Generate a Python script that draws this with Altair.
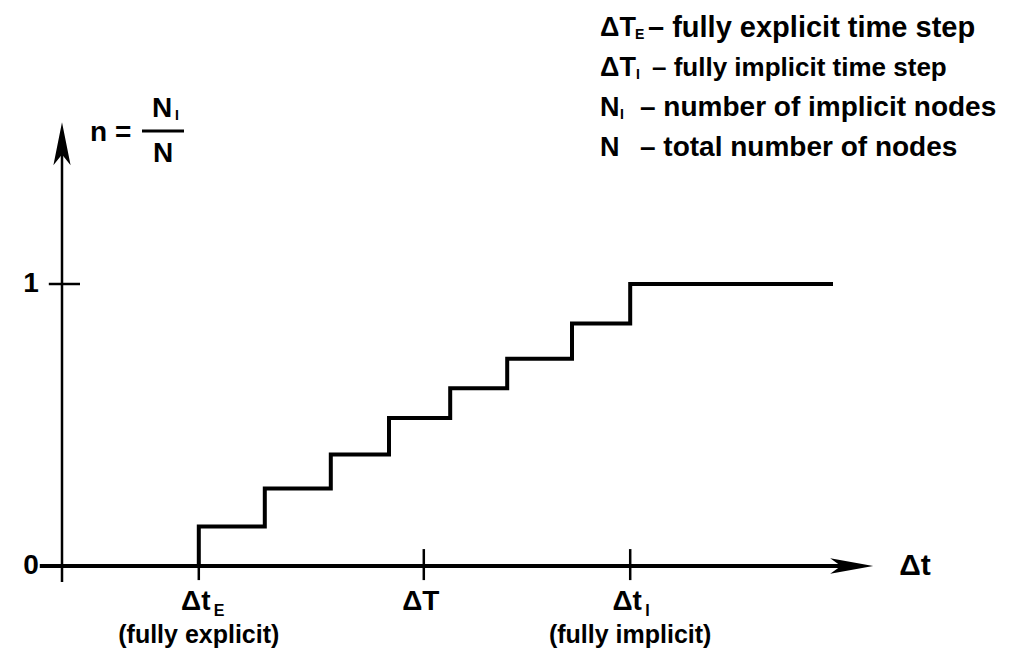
import altair as alt
import pandas as pd

# ---- data -----------------------------------------------------------------
# step function n = N_I / N versus time step (abscissa in arbitrary units)
step_dt = [2.28, 2.28, 3.38, 4.48, 5.45, 6.47, 7.42, 8.50, 9.47, 12.85]
step_n = [0.0, 0.14, 0.275, 0.395, 0.525, 0.63, 0.735, 0.86, 1.0, 1.0]

# x-axis ticks
xtick_pos = [2.28, 6.03, 9.47]
xtick_main = ["Δt", "ΔT", "Δt"]
xtick_sub = ["E", "", "I"]
xtick_note = ["(fully explicit)", "", "(fully implicit)"]

# y-axis ticks
ytick_pos = [0, 1]
ytick_lab = ["0", "1"]

# axis extents (data units)
x_axis_range = [-0.37, 13.52]
y_axis_range = [-0.057, 1.574]

# legend lines
leg_sym = ["ΔT", "ΔT", "N", "N"]
leg_sub = ["E", "I", "I", ""]
leg_txt = ["– fully explicit time step", "– fully implicit time step",
           "– number of implicit nodes", "– total number of nodes"]

FONT = "Liberation Sans"
W, H = 1023, 667
xs = alt.Scale(domain=[-62 / 60, (W - 62) / 60], nice=False, zero=False)
ys = alt.Scale(domain=[(566 - H) / 282, 566 / 282], nice=False, zero=False)

X = lambda f: alt.X(f, type="quantitative", scale=xs, axis=None)
Y = lambda f: alt.Y(f, type="quantitative", scale=ys, axis=None)

# ---- step line -------------------------------------------------------------
steps = pd.DataFrame({"dt": step_dt, "n": step_n, "i": range(len(step_dt))})
step_line = alt.Chart(steps).mark_line(
    interpolate="step-after", color="black", strokeWidth=4, strokeJoin="miter"
).encode(x=X("dt"), y=Y("n"), order="i:Q")

# ---- axes ------------------------------------------------------------------
xaxis = alt.Chart(pd.DataFrame({"a": [x_axis_range[0]], "b": [x_axis_range[1] - 0.3], "y": [0]})).mark_rule(
    color="black", strokeWidth=4).encode(x=X("a"), x2="b", y=Y("y"))
yaxis = alt.Chart(pd.DataFrame({"a": [y_axis_range[0]], "b": [y_axis_range[1] - 0.05], "x": [0]})).mark_rule(
    color="black", strokeWidth=2.5).encode(y=Y("a"), y2="b", x=X("x"))

# x ticks
xt = pd.DataFrame({"x": xtick_pos, "lo": [-0.05] * 3, "hi": [0.06] * 3,
                   "main": xtick_main, "sub": xtick_sub, "note": xtick_note})
xticks = alt.Chart(xt).mark_rule(color="black", strokeWidth=2.5).encode(
    x=X("x"), y=Y("lo"), y2="hi")
# y tick at 1
yt = pd.DataFrame({"y": [1], "a": [-0.22], "b": [0.30]})
yticks = alt.Chart(yt).mark_rule(color="black", strokeWidth=2.5).encode(
    y=Y("y"), x=X("a"), x2="b")

# arrowheads
arrows = pd.DataFrame({"x": [0, x_axis_range[1]], "y": [y_axis_range[1], 0],
                       "k": ["up", "right"]})
up = alt.Chart(arrows[arrows.k == "up"]).mark_point(
    shape="M0,0L0.4,2L0,1.5L-0.4,2Z", size=1849, filled=True, color="black", opacity=1
).encode(x=X("x"), y=Y("y"))
right = alt.Chart(arrows[arrows.k == "right"]).mark_point(
    shape="M0,0L-2,-0.36L-1.5,0L-2,0.36Z", size=1849, filled=True, color="black", opacity=1
).encode(x=X("x"), y=Y("y"))

# ---- tick labels -----------------------------------------------------------
xlab_main = alt.Chart(xt).mark_text(font=FONT, fontSize=28, fontWeight="bold",
                                    align="center", baseline="middle", dx=-3).encode(
    x=X("x"), y=alt.value(602), text="main:N")
xlab_sub = alt.Chart(xt).mark_text(font=FONT, fontSize=16, fontWeight="bold",
                                   align="left", baseline="middle", dx=15).encode(
    x=X("x"), y=alt.value(611), text="sub:N")
xlab_note = alt.Chart(xt).mark_text(font=FONT, fontSize=25, fontWeight="bold",
                                    align="center", baseline="middle").encode(
    x=X("x"), y=alt.value(635), text="note:N")

ylabels = pd.DataFrame({"y": ytick_pos, "t": ytick_lab})
ylab = alt.Chart(ylabels).mark_text(font=FONT, fontSize=28, fontWeight="bold",
                                    align="center", baseline="middle").encode(
    x=alt.value(31), y=Y("y"), text="t:N")

dt_lab = alt.Chart(pd.DataFrame({"x": [x_axis_range[1]], "y": [0], "t": ["Δt"]})).mark_text(
    font=FONT, fontSize=30, fontWeight="bold", align="left", baseline="middle", dx=26).encode(
    x=X("x"), y=Y("y"), text="t:N")

# ---- formula n = N_I / N ---------------------------------------------------
form_t = ["n =", "N", "I", "N"]
form_x = [90, 162, 175, 163]
form_y = [133, 109, 116, 154]
form_s = [28, 28, 14, 28]
form_a = ["left", "center", "left", "center"]
form_layers = []
for i in range(len(form_t)):
    form_layers.append(
        alt.Chart(pd.DataFrame({"t": [form_t[i]]})).mark_text(
            font=FONT, fontSize=form_s[i], fontWeight="bold",
            align=form_a[i], baseline="middle").encode(
            x=alt.value(form_x[i]), y=alt.value(form_y[i]), text="t:N"))
frac_bar = alt.Chart(pd.DataFrame({"k": [0]})).mark_rule(color="black", strokeWidth=3).encode(
    x=alt.value(142), x2=alt.value(184), y=alt.value(131))

# ---- legend text -----------------------------------------------------------
leg_y = [28, 68, 108, 148]
leg_xsub = [635, 636, 620, 620]
leg_xtxt = [648, 652, 640, 640]
leg_size = [29, 26, 28, 28]
leg_layers = []
for i in range(len(leg_sym)):
    leg_layers.append(alt.Chart(pd.DataFrame({"t": [leg_sym[i]]})).mark_text(
        font=FONT, fontSize=27, fontWeight="bold", align="left", baseline="middle").encode(
        x=alt.value(600), y=alt.value(leg_y[i]), text="t:N"))
    if leg_sub[i]:
        leg_layers.append(alt.Chart(pd.DataFrame({"t": [leg_sub[i]]})).mark_text(
            font=FONT, fontSize=14, fontWeight="bold", align="left", baseline="middle").encode(
            x=alt.value(leg_xsub[i]), y=alt.value(leg_y[i] + 7), text="t:N"))
    leg_layers.append(alt.Chart(pd.DataFrame({"t": [leg_txt[i]]})).mark_text(
        font=FONT, fontSize=leg_size[i], fontWeight="bold", align="left", baseline="middle").encode(
        x=alt.value(leg_xtxt[i]), y=alt.value(leg_y[i]), text="t:N"))

chart = alt.layer(
    xaxis, yaxis, xticks, yticks, step_line, up, right,
    xlab_main, xlab_sub, xlab_note, ylab, dt_lab, *form_layers, frac_bar, *leg_layers
).properties(
    width=W, height=H, padding=0, autosize=alt.AutoSizeParams(type="none"),
    background="white"
).configure_view(stroke=None)

chart.save("out.html", embed_options={"renderer": "svg", "actions": False})
